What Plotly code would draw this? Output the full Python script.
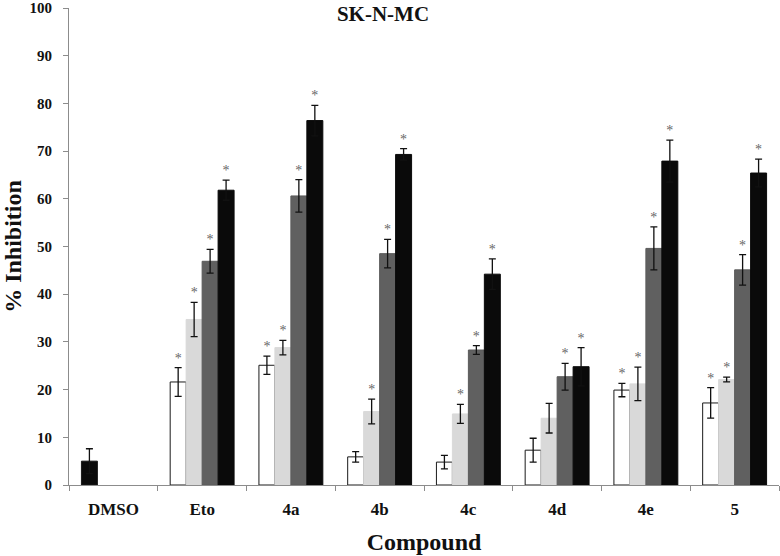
import plotly.graph_objects as go

categories = ["DMSO", "Eto", "4a", "4b", "4c", "4d", "4e", "5"]
y_ticks = [0, 10, 20, 30, 40, 50, 60, 70, 80, 90, 100]

s1 = [5.0, 21.6, 25.1, 5.9, 4.8, 7.3, 19.9, 17.2]
e1 = [2.6, 3.0, 1.9, 1.1, 1.4, 2.5, 1.4, 3.2]
s2 = [None, 34.7, 28.8, 15.4, 14.9, 14.0, 21.2, 22.1]
e2 = [None, 3.6, 1.5, 2.6, 2.0, 3.1, 3.5, 0.5]
s3 = [None, 46.9, 60.6, 48.5, 28.3, 22.7, 49.6, 45.1]
e3 = [None, 2.5, 3.4, 3.0, 0.9, 2.8, 4.5, 3.2]
s4 = [None, 61.8, 76.4, 69.3, 44.2, 24.8, 67.9, 65.4]
e4 = [None, 2.1, 3.2, 1.2, 3.2, 4.0, 4.4, 2.9]

sig1 = [0, 1, 1, 0, 0, 0, 1, 1]
sig2 = [0, 1, 1, 1, 1, 0, 1, 1]
sig3 = [0, 1, 1, 1, 1, 1, 1, 1]
sig4 = [0, 1, 1, 1, 1, 1, 1, 1]

series = [
    ("Series 1", s1, e1, sig1),
    ("Series 2", s2, e2, sig2),
    ("Series 3", s3, e3, sig3),
    ("Series 4", s4, e4, sig4),
]

fills = [
    ["#0a0a0a"] + ["#ffffff"] * (len(categories) - 1),
    "#d9d9d9",
    "#606060",
    "#0a0a0a",
]
edges = ["#1a1a1a", "#d9d9d9", "#5a5a5a", "#0a0a0a"]

FONT = "Liberation Serif"
star_offset = 1.8

fig = go.Figure()
for i, (name, vals, errs, sig) in enumerate(series):
    fig.add_trace(go.Bar(
        x=categories, y=vals, name=name,
        marker=dict(color=fills[i], line=dict(color=edges[i], width=1)),
        error_y=dict(type="data", array=errs, visible=True,
                     color="#111111", thickness=1.3, width=3.5),
        offsetgroup=str(i),
        showlegend=False,
    ))

for i, (name, vals, errs, sig) in enumerate(series):
    ys = []
    txt = []
    for v, e, s in zip(vals, errs, sig):
        if v is None or not s:
            ys.append(None)
            txt.append("")
        else:
            ys.append(v + e + star_offset)
            txt.append("*")
    fig.add_trace(go.Scatter(
        x=categories, y=ys, mode="text", text=txt,
        textposition="middle center",
        textfont=dict(family=FONT, size=14, color="#666666"),
        offsetgroup=str(i),
        showlegend=False, hoverinfo="skip",
    ))

fig.update_layout(
    width=780, height=556,
    margin=dict(l=69, r=1, t=8, b=71, autoexpand=False),
    paper_bgcolor="white", plot_bgcolor="white",
    barmode="group", bargap=0.28, bargroupgap=0,
    scattermode="group", scattergap=0.28,
    title=dict(text="<b>SK-N-MC</b>", x=0.491, xanchor="center",
               xref="container", y=0.976, yanchor="middle",
               font=dict(family=FONT, size=21, color="#111111")),
    font=dict(family=FONT, color="#111111"),
)

fig.update_xaxes(
    type="category", categoryorder="array", categoryarray=categories,
    automargin=False,
    showline=True, linecolor="#8c8c8c", linewidth=1,
    ticks="outside", tickson="boundaries", ticklen=5, tickcolor="#8c8c8c",
    tickfont=dict(family=FONT, size=17, color="#111111", weight="bold"),
    ticklabelstandoff=9,
    showgrid=False, zeroline=False,
    title=dict(text="<b>Compound</b>", font=dict(family=FONT, size=24, color="#111111"),
               standoff=14),
)
fig.update_yaxes(
    range=[0, 100], tickmode="array", tickvals=y_ticks,
    ticktext=[str(t) for t in y_ticks],
    automargin=False, ticklabeloverflow="allow",
    showline=True, linecolor="#8c8c8c", linewidth=1,
    ticks="outside", ticklen=5, tickcolor="#8c8c8c",
    tickfont=dict(family=FONT, size=15, color="#111111", weight="bold"),
    ticklabelstandoff=8,
    showgrid=False, zeroline=False,
    title=dict(text="<b>% Inhibition</b>", font=dict(family=FONT, size=24, color="#111111"),
               standoff=12),
)

fig.write_html("out.html", config={"displayModeBar": False},
               post_script="document.body.style.margin='0';")
